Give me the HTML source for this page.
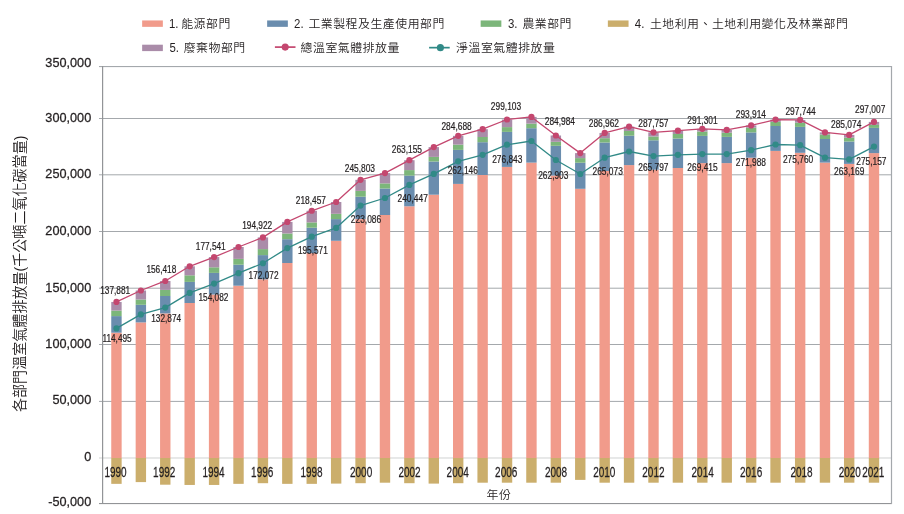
<!DOCTYPE html>
<html lang="zh-Hant"><head><meta charset="utf-8"><title>各部門溫室氣體排放量</title>
<style>html,body{margin:0;padding:0;background:#fff}body{width:904px;height:514px;overflow:hidden}svg{display:block}text{font-family:"Liberation Sans","Noto Sans CJK TC",sans-serif;fill:#231F20}.cj{font-family:"Liberation Sans","Noto Sans CJK TC",sans-serif;font-weight:350}</style></head><body>
<svg width="904" height="514" viewBox="0 0 904 514">
<rect width="904" height="514" fill="#fff"/>
<rect x="99" y="118.00" width="793" height="1" fill="#A4A8AC"/>
<rect x="99" y="174.30" width="793" height="1" fill="#A4A8AC"/>
<rect x="99" y="231.00" width="793" height="1" fill="#A4A8AC"/>
<rect x="99" y="287.70" width="793" height="1" fill="#A4A8AC"/>
<rect x="99" y="344.00" width="793" height="1" fill="#A4A8AC"/>
<rect x="99" y="400.90" width="793" height="1" fill="#A4A8AC"/>
<rect x="99" y="457.23" width="793" height="1.5" fill="#E0E1E2"/>
<rect x="99" y="66" width="793" height="1.1" fill="#A4A8AC"/>
<rect x="99" y="503" width="793" height="1.1" fill="#929497"/>
<rect x="102" y="66" width="1.2" height="438" fill="#929497"/>
<rect x="890.9" y="66" width="1.2" height="438" fill="#A4A8AC"/>
<rect x="111.25" y="332.70" width="10.40" height="125.28" fill="#F19B8B"/>
<rect x="111.25" y="316.10" width="10.40" height="16.60" fill="#6A8DAE"/>
<rect x="111.25" y="310.60" width="10.40" height="5.50" fill="#7CB67A"/>
<rect x="111.25" y="301.95" width="10.40" height="8.65" fill="#AA8CA9"/>
<rect x="111.25" y="457.98" width="10.40" height="25.87" fill="#CBAE6C"/>
<rect x="135.66" y="322.40" width="10.40" height="135.58" fill="#F19B8B"/>
<rect x="135.66" y="304.80" width="10.40" height="17.60" fill="#6A8DAE"/>
<rect x="135.66" y="299.50" width="10.40" height="5.30" fill="#7CB67A"/>
<rect x="135.66" y="290.50" width="10.40" height="9.00" fill="#AA8CA9"/>
<rect x="135.66" y="457.98" width="10.40" height="24.12" fill="#CBAE6C"/>
<rect x="160.07" y="313.40" width="10.40" height="144.58" fill="#F19B8B"/>
<rect x="160.07" y="296.00" width="10.40" height="17.40" fill="#6A8DAE"/>
<rect x="160.07" y="289.90" width="10.40" height="6.10" fill="#7CB67A"/>
<rect x="160.07" y="280.98" width="10.40" height="8.92" fill="#AA8CA9"/>
<rect x="160.07" y="457.98" width="10.40" height="26.72" fill="#CBAE6C"/>
<rect x="184.48" y="303.00" width="10.40" height="154.98" fill="#F19B8B"/>
<rect x="184.48" y="281.90" width="10.40" height="21.10" fill="#6A8DAE"/>
<rect x="184.48" y="275.30" width="10.40" height="6.60" fill="#7CB67A"/>
<rect x="184.48" y="266.30" width="10.40" height="9.00" fill="#AA8CA9"/>
<rect x="184.48" y="457.98" width="10.40" height="26.97" fill="#CBAE6C"/>
<rect x="208.89" y="294.50" width="10.40" height="163.48" fill="#F19B8B"/>
<rect x="208.89" y="272.90" width="10.40" height="21.60" fill="#6A8DAE"/>
<rect x="208.89" y="267.30" width="10.40" height="5.60" fill="#7CB67A"/>
<rect x="208.89" y="257.07" width="10.40" height="10.23" fill="#AA8CA9"/>
<rect x="208.89" y="457.98" width="10.40" height="26.97" fill="#CBAE6C"/>
<rect x="233.31" y="285.70" width="10.40" height="172.28" fill="#F19B8B"/>
<rect x="233.31" y="264.70" width="10.40" height="21.00" fill="#6A8DAE"/>
<rect x="233.31" y="258.90" width="10.40" height="5.80" fill="#7CB67A"/>
<rect x="233.31" y="247.00" width="10.40" height="11.90" fill="#AA8CA9"/>
<rect x="233.31" y="457.98" width="10.40" height="25.87" fill="#CBAE6C"/>
<rect x="257.72" y="279.30" width="10.40" height="178.68" fill="#F19B8B"/>
<rect x="257.72" y="255.10" width="10.40" height="24.20" fill="#6A8DAE"/>
<rect x="257.72" y="249.10" width="10.40" height="6.00" fill="#7CB67A"/>
<rect x="257.72" y="237.41" width="10.40" height="11.69" fill="#AA8CA9"/>
<rect x="257.72" y="457.98" width="10.40" height="25.22" fill="#CBAE6C"/>
<rect x="282.13" y="263.00" width="10.40" height="194.98" fill="#F19B8B"/>
<rect x="282.13" y="239.20" width="10.40" height="23.80" fill="#6A8DAE"/>
<rect x="282.13" y="233.50" width="10.40" height="5.70" fill="#7CB67A"/>
<rect x="282.13" y="221.90" width="10.40" height="11.60" fill="#AA8CA9"/>
<rect x="282.13" y="457.98" width="10.40" height="25.87" fill="#CBAE6C"/>
<rect x="306.54" y="253.10" width="10.40" height="204.88" fill="#F19B8B"/>
<rect x="306.54" y="227.70" width="10.40" height="25.40" fill="#6A8DAE"/>
<rect x="306.54" y="222.40" width="10.40" height="5.30" fill="#7CB67A"/>
<rect x="306.54" y="210.77" width="10.40" height="11.63" fill="#AA8CA9"/>
<rect x="306.54" y="457.98" width="10.40" height="25.87" fill="#CBAE6C"/>
<rect x="330.95" y="240.80" width="10.40" height="217.18" fill="#F19B8B"/>
<rect x="330.95" y="219.10" width="10.40" height="21.70" fill="#6A8DAE"/>
<rect x="330.95" y="213.80" width="10.40" height="5.30" fill="#7CB67A"/>
<rect x="330.95" y="202.00" width="10.40" height="11.80" fill="#AA8CA9"/>
<rect x="330.95" y="457.98" width="10.40" height="25.62" fill="#CBAE6C"/>
<rect x="355.36" y="219.10" width="10.40" height="238.88" fill="#F19B8B"/>
<rect x="355.36" y="196.70" width="10.40" height="22.40" fill="#6A8DAE"/>
<rect x="355.36" y="190.90" width="10.40" height="5.80" fill="#7CB67A"/>
<rect x="355.36" y="179.83" width="10.40" height="11.07" fill="#AA8CA9"/>
<rect x="355.36" y="457.98" width="10.40" height="25.22" fill="#CBAE6C"/>
<rect x="379.77" y="215.00" width="10.40" height="242.98" fill="#F19B8B"/>
<rect x="379.77" y="188.50" width="10.40" height="26.50" fill="#6A8DAE"/>
<rect x="379.77" y="183.40" width="10.40" height="5.10" fill="#7CB67A"/>
<rect x="379.77" y="173.10" width="10.40" height="10.30" fill="#AA8CA9"/>
<rect x="379.77" y="457.98" width="10.40" height="24.72" fill="#CBAE6C"/>
<rect x="404.18" y="206.30" width="10.40" height="251.68" fill="#F19B8B"/>
<rect x="404.18" y="175.60" width="10.40" height="30.70" fill="#6A8DAE"/>
<rect x="404.18" y="170.10" width="10.40" height="5.50" fill="#7CB67A"/>
<rect x="404.18" y="160.19" width="10.40" height="9.91" fill="#AA8CA9"/>
<rect x="404.18" y="457.98" width="10.40" height="25.22" fill="#CBAE6C"/>
<rect x="428.59" y="194.70" width="10.40" height="263.28" fill="#F19B8B"/>
<rect x="428.59" y="161.50" width="10.40" height="33.20" fill="#6A8DAE"/>
<rect x="428.59" y="156.90" width="10.40" height="4.60" fill="#7CB67A"/>
<rect x="428.59" y="147.10" width="10.40" height="9.80" fill="#AA8CA9"/>
<rect x="428.59" y="457.98" width="10.40" height="25.62" fill="#CBAE6C"/>
<rect x="453.00" y="183.90" width="10.40" height="274.08" fill="#F19B8B"/>
<rect x="453.00" y="149.90" width="10.40" height="34.00" fill="#6A8DAE"/>
<rect x="453.00" y="144.60" width="10.40" height="5.30" fill="#7CB67A"/>
<rect x="453.00" y="135.83" width="10.40" height="8.77" fill="#AA8CA9"/>
<rect x="453.00" y="457.98" width="10.40" height="25.22" fill="#CBAE6C"/>
<rect x="477.42" y="175.00" width="10.40" height="282.98" fill="#F19B8B"/>
<rect x="477.42" y="142.20" width="10.40" height="32.80" fill="#6A8DAE"/>
<rect x="477.42" y="137.00" width="10.40" height="5.20" fill="#7CB67A"/>
<rect x="477.42" y="129.20" width="10.40" height="7.80" fill="#AA8CA9"/>
<rect x="477.42" y="457.98" width="10.40" height="24.72" fill="#CBAE6C"/>
<rect x="501.83" y="166.90" width="10.40" height="291.08" fill="#F19B8B"/>
<rect x="501.83" y="131.90" width="10.40" height="35.00" fill="#6A8DAE"/>
<rect x="501.83" y="127.10" width="10.40" height="4.80" fill="#7CB67A"/>
<rect x="501.83" y="119.52" width="10.40" height="7.58" fill="#AA8CA9"/>
<rect x="501.83" y="457.98" width="10.40" height="24.72" fill="#CBAE6C"/>
<rect x="526.24" y="162.60" width="10.40" height="295.38" fill="#F19B8B"/>
<rect x="526.24" y="128.20" width="10.40" height="34.40" fill="#6A8DAE"/>
<rect x="526.24" y="123.60" width="10.40" height="4.60" fill="#7CB67A"/>
<rect x="526.24" y="116.90" width="10.40" height="6.70" fill="#AA8CA9"/>
<rect x="526.24" y="457.98" width="10.40" height="24.72" fill="#CBAE6C"/>
<rect x="550.65" y="175.50" width="10.40" height="282.48" fill="#F19B8B"/>
<rect x="550.65" y="145.80" width="10.40" height="29.70" fill="#6A8DAE"/>
<rect x="550.65" y="141.80" width="10.40" height="4.00" fill="#7CB67A"/>
<rect x="550.65" y="135.49" width="10.40" height="6.31" fill="#AA8CA9"/>
<rect x="550.65" y="457.98" width="10.40" height="24.72" fill="#CBAE6C"/>
<rect x="575.06" y="188.80" width="10.40" height="269.18" fill="#F19B8B"/>
<rect x="575.06" y="162.70" width="10.40" height="26.10" fill="#6A8DAE"/>
<rect x="575.06" y="158.10" width="10.40" height="4.60" fill="#7CB67A"/>
<rect x="575.06" y="153.10" width="10.40" height="5.00" fill="#AA8CA9"/>
<rect x="575.06" y="457.98" width="10.40" height="21.92" fill="#CBAE6C"/>
<rect x="599.47" y="171.00" width="10.40" height="286.98" fill="#F19B8B"/>
<rect x="599.47" y="142.50" width="10.40" height="28.50" fill="#6A8DAE"/>
<rect x="599.47" y="138.20" width="10.40" height="4.30" fill="#7CB67A"/>
<rect x="599.47" y="132.95" width="10.40" height="5.25" fill="#AA8CA9"/>
<rect x="599.47" y="457.98" width="10.40" height="24.72" fill="#CBAE6C"/>
<rect x="623.88" y="165.10" width="10.40" height="292.88" fill="#F19B8B"/>
<rect x="623.88" y="135.70" width="10.40" height="29.40" fill="#6A8DAE"/>
<rect x="623.88" y="131.00" width="10.40" height="4.70" fill="#7CB67A"/>
<rect x="623.88" y="126.60" width="10.40" height="4.40" fill="#AA8CA9"/>
<rect x="623.88" y="457.98" width="10.40" height="24.72" fill="#CBAE6C"/>
<rect x="648.29" y="169.70" width="10.40" height="288.28" fill="#F19B8B"/>
<rect x="648.29" y="140.30" width="10.40" height="29.40" fill="#6A8DAE"/>
<rect x="648.29" y="136.50" width="10.40" height="3.80" fill="#7CB67A"/>
<rect x="648.29" y="132.35" width="10.40" height="4.15" fill="#AA8CA9"/>
<rect x="648.29" y="457.98" width="10.40" height="24.72" fill="#CBAE6C"/>
<rect x="672.70" y="168.00" width="10.40" height="289.98" fill="#F19B8B"/>
<rect x="672.70" y="138.50" width="10.40" height="29.50" fill="#6A8DAE"/>
<rect x="672.70" y="134.00" width="10.40" height="4.50" fill="#7CB67A"/>
<rect x="672.70" y="130.70" width="10.40" height="3.30" fill="#AA8CA9"/>
<rect x="672.70" y="457.98" width="10.40" height="24.72" fill="#CBAE6C"/>
<rect x="697.11" y="163.10" width="10.40" height="294.88" fill="#F19B8B"/>
<rect x="697.11" y="135.90" width="10.40" height="27.20" fill="#6A8DAE"/>
<rect x="697.11" y="131.50" width="10.40" height="4.40" fill="#7CB67A"/>
<rect x="697.11" y="128.84" width="10.40" height="2.66" fill="#AA8CA9"/>
<rect x="697.11" y="457.98" width="10.40" height="24.72" fill="#CBAE6C"/>
<rect x="721.53" y="163.10" width="10.40" height="294.88" fill="#F19B8B"/>
<rect x="721.53" y="136.90" width="10.40" height="26.20" fill="#6A8DAE"/>
<rect x="721.53" y="132.70" width="10.40" height="4.20" fill="#7CB67A"/>
<rect x="721.53" y="129.90" width="10.40" height="2.80" fill="#AA8CA9"/>
<rect x="721.53" y="457.98" width="10.40" height="24.72" fill="#CBAE6C"/>
<rect x="745.94" y="157.70" width="10.40" height="300.28" fill="#F19B8B"/>
<rect x="745.94" y="132.40" width="10.40" height="25.30" fill="#6A8DAE"/>
<rect x="745.94" y="127.70" width="10.40" height="4.70" fill="#7CB67A"/>
<rect x="745.94" y="125.39" width="10.40" height="2.31" fill="#AA8CA9"/>
<rect x="745.94" y="457.98" width="10.40" height="24.72" fill="#CBAE6C"/>
<rect x="770.35" y="150.90" width="10.40" height="307.08" fill="#F19B8B"/>
<rect x="770.35" y="126.00" width="10.40" height="24.90" fill="#6A8DAE"/>
<rect x="770.35" y="121.90" width="10.40" height="4.10" fill="#7CB67A"/>
<rect x="770.35" y="119.60" width="10.40" height="2.30" fill="#AA8CA9"/>
<rect x="770.35" y="457.98" width="10.40" height="24.72" fill="#CBAE6C"/>
<rect x="794.96" y="152.80" width="10.40" height="305.18" fill="#F19B8B"/>
<rect x="794.96" y="126.90" width="10.40" height="25.90" fill="#6A8DAE"/>
<rect x="794.96" y="122.70" width="10.40" height="4.20" fill="#7CB67A"/>
<rect x="794.96" y="119.95" width="10.40" height="2.75" fill="#AA8CA9"/>
<rect x="794.96" y="457.98" width="10.40" height="24.72" fill="#CBAE6C"/>
<rect x="819.77" y="162.60" width="10.40" height="295.38" fill="#F19B8B"/>
<rect x="819.77" y="139.00" width="10.40" height="23.60" fill="#6A8DAE"/>
<rect x="819.77" y="134.50" width="10.40" height="4.50" fill="#7CB67A"/>
<rect x="819.77" y="132.40" width="10.40" height="2.10" fill="#AA8CA9"/>
<rect x="819.77" y="457.98" width="10.40" height="24.72" fill="#CBAE6C"/>
<rect x="843.98" y="163.90" width="10.40" height="294.08" fill="#F19B8B"/>
<rect x="843.98" y="141.50" width="10.40" height="22.40" fill="#6A8DAE"/>
<rect x="843.98" y="137.70" width="10.40" height="3.80" fill="#7CB67A"/>
<rect x="843.98" y="134.89" width="10.40" height="2.81" fill="#AA8CA9"/>
<rect x="843.98" y="457.98" width="10.40" height="24.72" fill="#CBAE6C"/>
<rect x="868.79" y="153.10" width="10.40" height="304.88" fill="#F19B8B"/>
<rect x="868.79" y="127.90" width="10.40" height="25.20" fill="#6A8DAE"/>
<rect x="868.79" y="124.90" width="10.40" height="3.00" fill="#7CB67A"/>
<rect x="868.79" y="121.89" width="10.40" height="3.01" fill="#AA8CA9"/>
<rect x="868.79" y="457.98" width="10.40" height="24.72" fill="#CBAE6C"/>
<polyline points="116.45,328.42 140.86,314.40 165.27,307.62 189.68,292.90 214.09,283.62 238.50,273.20 262.92,263.26 287.33,248.10 311.74,236.67 336.15,227.90 360.56,205.54 384.97,198.00 409.38,184.89 433.79,173.90 458.20,161.34 482.62,154.80 507.03,144.70 531.44,141.00 555.85,159.98 580.26,174.00 604.67,157.72 629.08,151.50 653.49,156.10 677.90,154.80 702.31,154.11 726.73,154.10 751.14,150.20 775.55,144.50 800.16,145.13 824.97,157.70 849.18,159.38 873.99,146.61" fill="none" stroke="#318A87" stroke-width="1.3" stroke-linejoin="round"/>
<circle cx="116.45" cy="328.42" r="3.1" fill="#318A87"/>
<circle cx="140.86" cy="314.40" r="3.1" fill="#318A87"/>
<circle cx="165.27" cy="307.62" r="3.1" fill="#318A87"/>
<circle cx="189.68" cy="292.90" r="3.1" fill="#318A87"/>
<circle cx="214.09" cy="283.62" r="3.1" fill="#318A87"/>
<circle cx="238.50" cy="273.20" r="3.1" fill="#318A87"/>
<circle cx="262.92" cy="263.26" r="3.1" fill="#318A87"/>
<circle cx="287.33" cy="248.10" r="3.1" fill="#318A87"/>
<circle cx="311.74" cy="236.67" r="3.1" fill="#318A87"/>
<circle cx="336.15" cy="227.90" r="3.1" fill="#318A87"/>
<circle cx="360.56" cy="205.54" r="3.1" fill="#318A87"/>
<circle cx="384.97" cy="198.00" r="3.1" fill="#318A87"/>
<circle cx="409.38" cy="184.89" r="3.1" fill="#318A87"/>
<circle cx="433.79" cy="173.90" r="3.1" fill="#318A87"/>
<circle cx="458.20" cy="161.34" r="3.1" fill="#318A87"/>
<circle cx="482.62" cy="154.80" r="3.1" fill="#318A87"/>
<circle cx="507.03" cy="144.70" r="3.1" fill="#318A87"/>
<circle cx="531.44" cy="141.00" r="3.1" fill="#318A87"/>
<circle cx="555.85" cy="159.98" r="3.1" fill="#318A87"/>
<circle cx="580.26" cy="174.00" r="3.1" fill="#318A87"/>
<circle cx="604.67" cy="157.72" r="3.1" fill="#318A87"/>
<circle cx="629.08" cy="151.50" r="3.1" fill="#318A87"/>
<circle cx="653.49" cy="156.10" r="3.1" fill="#318A87"/>
<circle cx="677.90" cy="154.80" r="3.1" fill="#318A87"/>
<circle cx="702.31" cy="154.11" r="3.1" fill="#318A87"/>
<circle cx="726.73" cy="154.10" r="3.1" fill="#318A87"/>
<circle cx="751.14" cy="150.20" r="3.1" fill="#318A87"/>
<circle cx="775.55" cy="144.50" r="3.1" fill="#318A87"/>
<circle cx="800.16" cy="145.13" r="3.1" fill="#318A87"/>
<circle cx="824.97" cy="157.70" r="3.1" fill="#318A87"/>
<circle cx="849.18" cy="159.38" r="3.1" fill="#318A87"/>
<circle cx="873.99" cy="146.61" r="3.1" fill="#318A87"/>
<polyline points="116.45,301.95 140.86,290.50 165.27,280.98 189.68,266.30 214.09,257.07 238.50,247.00 262.92,237.41 287.33,221.90 311.74,210.77 336.15,202.00 360.56,179.83 384.97,173.10 409.38,160.19 433.79,147.10 458.20,135.83 482.62,129.20 507.03,119.52 531.44,116.90 555.85,135.49 580.26,153.10 604.67,132.95 629.08,126.60 653.49,132.35 677.90,130.70 702.31,128.84 726.73,129.90 751.14,125.39 775.55,119.60 800.16,119.95 824.97,132.40 849.18,134.89 873.99,121.89" fill="none" stroke="#C4476F" stroke-width="1.3" stroke-linejoin="round"/>
<circle cx="116.45" cy="301.95" r="3.1" fill="#C4476F"/>
<circle cx="140.86" cy="290.50" r="3.1" fill="#C4476F"/>
<circle cx="165.27" cy="280.98" r="3.1" fill="#C4476F"/>
<circle cx="189.68" cy="266.30" r="3.1" fill="#C4476F"/>
<circle cx="214.09" cy="257.07" r="3.1" fill="#C4476F"/>
<circle cx="238.50" cy="247.00" r="3.1" fill="#C4476F"/>
<circle cx="262.92" cy="237.41" r="3.1" fill="#C4476F"/>
<circle cx="287.33" cy="221.90" r="3.1" fill="#C4476F"/>
<circle cx="311.74" cy="210.77" r="3.1" fill="#C4476F"/>
<circle cx="336.15" cy="202.00" r="3.1" fill="#C4476F"/>
<circle cx="360.56" cy="179.83" r="3.1" fill="#C4476F"/>
<circle cx="384.97" cy="173.10" r="3.1" fill="#C4476F"/>
<circle cx="409.38" cy="160.19" r="3.1" fill="#C4476F"/>
<circle cx="433.79" cy="147.10" r="3.1" fill="#C4476F"/>
<circle cx="458.20" cy="135.83" r="3.1" fill="#C4476F"/>
<circle cx="482.62" cy="129.20" r="3.1" fill="#C4476F"/>
<circle cx="507.03" cy="119.52" r="3.1" fill="#C4476F"/>
<circle cx="531.44" cy="116.90" r="3.1" fill="#C4476F"/>
<circle cx="555.85" cy="135.49" r="3.1" fill="#C4476F"/>
<circle cx="580.26" cy="153.10" r="3.1" fill="#C4476F"/>
<circle cx="604.67" cy="132.95" r="3.1" fill="#C4476F"/>
<circle cx="629.08" cy="126.60" r="3.1" fill="#C4476F"/>
<circle cx="653.49" cy="132.35" r="3.1" fill="#C4476F"/>
<circle cx="677.90" cy="130.70" r="3.1" fill="#C4476F"/>
<circle cx="702.31" cy="128.84" r="3.1" fill="#C4476F"/>
<circle cx="726.73" cy="129.90" r="3.1" fill="#C4476F"/>
<circle cx="751.14" cy="125.39" r="3.1" fill="#C4476F"/>
<circle cx="775.55" cy="119.60" r="3.1" fill="#C4476F"/>
<circle cx="800.16" cy="119.95" r="3.1" fill="#C4476F"/>
<circle cx="824.97" cy="132.40" r="3.1" fill="#C4476F"/>
<circle cx="849.18" cy="134.89" r="3.1" fill="#C4476F"/>
<circle cx="873.99" cy="121.89" r="3.1" fill="#C4476F"/>
<text transform="translate(91.2,67.18) scale(0.94,1)" text-anchor="end" font-size="13.5" stroke="#231F20" stroke-width="0.28">350,000</text>
<text transform="translate(91.2,121.88) scale(0.94,1)" text-anchor="end" font-size="13.5" stroke="#231F20" stroke-width="0.28">300,000</text>
<text transform="translate(91.2,177.78) scale(0.94,1)" text-anchor="end" font-size="13.5" stroke="#231F20" stroke-width="0.28">250,000</text>
<text transform="translate(91.2,235.18) scale(0.94,1)" text-anchor="end" font-size="13.5" stroke="#231F20" stroke-width="0.28">200,000</text>
<text transform="translate(91.2,292.18) scale(0.94,1)" text-anchor="end" font-size="13.5" stroke="#231F20" stroke-width="0.28">150,000</text>
<text transform="translate(91.2,348.08) scale(0.94,1)" text-anchor="end" font-size="13.5" stroke="#231F20" stroke-width="0.28">100,000</text>
<text transform="translate(91.2,404.18) scale(0.94,1)" text-anchor="end" font-size="13.5" stroke="#231F20" stroke-width="0.28">50,000</text>
<text transform="translate(91.2,460.98) scale(0.94,1)" text-anchor="end" font-size="13.5" stroke="#231F20" stroke-width="0.28">0</text>
<text transform="translate(91.2,506.08) scale(0.94,1)" text-anchor="end" font-size="13.5" stroke="#231F20" stroke-width="0.28">-50,000</text>
<text transform="translate(115.50,477.2) scale(0.69,1)" text-anchor="middle" font-size="14.5" stroke="#231F20" stroke-width="0.25">1990</text>
<text transform="translate(164.20,477.2) scale(0.69,1)" text-anchor="middle" font-size="14.5" stroke="#231F20" stroke-width="0.25">1992</text>
<text transform="translate(213.50,477.2) scale(0.69,1)" text-anchor="middle" font-size="14.5" stroke="#231F20" stroke-width="0.25">1994</text>
<text transform="translate(262.20,477.2) scale(0.69,1)" text-anchor="middle" font-size="14.5" stroke="#231F20" stroke-width="0.25">1996</text>
<text transform="translate(311.50,477.2) scale(0.69,1)" text-anchor="middle" font-size="14.5" stroke="#231F20" stroke-width="0.25">1998</text>
<text transform="translate(361.10,477.2) scale(0.69,1)" text-anchor="middle" font-size="14.5" stroke="#231F20" stroke-width="0.25">2000</text>
<text transform="translate(409.50,477.2) scale(0.69,1)" text-anchor="middle" font-size="14.5" stroke="#231F20" stroke-width="0.25">2002</text>
<text transform="translate(457.70,477.2) scale(0.69,1)" text-anchor="middle" font-size="14.5" stroke="#231F20" stroke-width="0.25">2004</text>
<text transform="translate(506.20,477.2) scale(0.69,1)" text-anchor="middle" font-size="14.5" stroke="#231F20" stroke-width="0.25">2006</text>
<text transform="translate(556.00,477.2) scale(0.69,1)" text-anchor="middle" font-size="14.5" stroke="#231F20" stroke-width="0.25">2008</text>
<text transform="translate(604.30,477.2) scale(0.69,1)" text-anchor="middle" font-size="14.5" stroke="#231F20" stroke-width="0.25">2010</text>
<text transform="translate(653.40,477.2) scale(0.69,1)" text-anchor="middle" font-size="14.5" stroke="#231F20" stroke-width="0.25">2012</text>
<text transform="translate(702.65,477.2) scale(0.69,1)" text-anchor="middle" font-size="14.5" stroke="#231F20" stroke-width="0.25">2014</text>
<text transform="translate(751.10,477.2) scale(0.69,1)" text-anchor="middle" font-size="14.5" stroke="#231F20" stroke-width="0.25">2016</text>
<text transform="translate(801.50,477.2) scale(0.69,1)" text-anchor="middle" font-size="14.5" stroke="#231F20" stroke-width="0.25">2018</text>
<text transform="translate(849.80,477.2) scale(0.69,1)" text-anchor="middle" font-size="14.5" stroke="#231F20" stroke-width="0.25">2020</text>
<text transform="translate(873.30,477.2) scale(0.69,1)" text-anchor="middle" font-size="14.5" stroke="#231F20" stroke-width="0.25">2021</text>
<text transform="translate(100.20,294.00) scale(0.812,1)" font-size="10.2" stroke="#231F20" stroke-width="0.22">137,881</text>
<text transform="translate(146.40,272.90) scale(0.812,1)" font-size="10.2" stroke="#231F20" stroke-width="0.22">156,418</text>
<text transform="translate(102.40,342.10) scale(0.812,1)" font-size="10.2" stroke="#231F20" stroke-width="0.22">114,495</text>
<text transform="translate(151.20,322.20) scale(0.812,1)" font-size="10.2" stroke="#231F20" stroke-width="0.22">132,874</text>
<text transform="translate(198.50,301.00) scale(0.812,1)" font-size="10.2" stroke="#231F20" stroke-width="0.22">154,082</text>
<text transform="translate(195.80,249.80) scale(0.812,1)" font-size="10.2" stroke="#231F20" stroke-width="0.22">177,541</text>
<text transform="translate(242.20,229.00) scale(0.812,1)" font-size="10.2" stroke="#231F20" stroke-width="0.22">194,922</text>
<text transform="translate(248.60,279.30) scale(0.812,1)" font-size="10.2" stroke="#231F20" stroke-width="0.22">172,072</text>
<text transform="translate(297.90,254.40) scale(0.812,1)" font-size="10.2" stroke="#231F20" stroke-width="0.22">195,571</text>
<text transform="translate(295.75,203.70) scale(0.822,1)" font-size="10.2" stroke="#231F20" stroke-width="0.22">218,457</text>
<text transform="translate(350.85,223.20) scale(0.822,1)" font-size="10.2" stroke="#231F20" stroke-width="0.22">223,086</text>
<text transform="translate(344.75,171.80) scale(0.822,1)" font-size="10.2" stroke="#231F20" stroke-width="0.22">245,803</text>
<text transform="translate(391.75,153.20) scale(0.822,1)" font-size="10.2" stroke="#231F20" stroke-width="0.22">263,155</text>
<text transform="translate(397.55,202.20) scale(0.822,1)" font-size="10.2" stroke="#231F20" stroke-width="0.22">240,447</text>
<text transform="translate(447.65,173.90) scale(0.822,1)" font-size="10.2" stroke="#231F20" stroke-width="0.22">262,146</text>
<text transform="translate(441.45,129.60) scale(0.822,1)" font-size="10.2" stroke="#231F20" stroke-width="0.22">284,688</text>
<text transform="translate(490.85,110.40) scale(0.822,1)" font-size="10.2" stroke="#231F20" stroke-width="0.22">299,103</text>
<text transform="translate(544.75,124.90) scale(0.822,1)" font-size="10.2" stroke="#231F20" stroke-width="0.22">284,984</text>
<text transform="translate(588.75,126.90) scale(0.822,1)" font-size="10.2" stroke="#231F20" stroke-width="0.22">286,962</text>
<text transform="translate(492.15,162.60) scale(0.822,1)" font-size="10.2" stroke="#231F20" stroke-width="0.22">276,843</text>
<text transform="translate(538.15,178.70) scale(0.822,1)" font-size="10.2" stroke="#231F20" stroke-width="0.22">262,903</text>
<text transform="translate(592.55,175.20) scale(0.822,1)" font-size="10.2" stroke="#231F20" stroke-width="0.22">265,073</text>
<text transform="translate(638.25,127.30) scale(0.822,1)" font-size="10.2" stroke="#231F20" stroke-width="0.22">287,757</text>
<text transform="translate(687.35,124.40) scale(0.822,1)" font-size="10.2" stroke="#231F20" stroke-width="0.22">291,301</text>
<text transform="translate(638.25,170.50) scale(0.822,1)" font-size="10.2" stroke="#231F20" stroke-width="0.22">265,797</text>
<text transform="translate(687.35,170.90) scale(0.822,1)" font-size="10.2" stroke="#231F20" stroke-width="0.22">269,415</text>
<text transform="translate(735.75,118.30) scale(0.822,1)" font-size="10.2" stroke="#231F20" stroke-width="0.22">293,914</text>
<text transform="translate(735.75,165.90) scale(0.822,1)" font-size="10.2" stroke="#231F20" stroke-width="0.22">271,988</text>
<text transform="translate(785.45,115.30) scale(0.822,1)" font-size="10.2" stroke="#231F20" stroke-width="0.22">297,744</text>
<text transform="translate(855.05,113.30) scale(0.822,1)" font-size="10.2" stroke="#231F20" stroke-width="0.22">297,007</text>
<text transform="translate(831.05,128.20) scale(0.822,1)" font-size="10.2" stroke="#231F20" stroke-width="0.22">285,074</text>
<text transform="translate(782.95,162.60) scale(0.822,1)" font-size="10.2" stroke="#231F20" stroke-width="0.22">275,760</text>
<text transform="translate(856.25,164.90) scale(0.822,1)" font-size="10.2" stroke="#231F20" stroke-width="0.22">275,157</text>
<text transform="translate(834.05,175.00) scale(0.822,1)" font-size="10.2" stroke="#231F20" stroke-width="0.22">263,169</text>
<rect x="142.15" y="20.45" width="20.7" height="6.4" fill="#F19B8B"/>
<text transform="translate(169.00,27.90) scale(0.88,1)" font-size="13" fill="#3d3d3d">1.</text>
<text class="cj" transform="translate(181.20,27.90) scale(1.01,1)" font-size="11.8" letter-spacing="0.5" text-anchor="start">能源部門</text>
<rect x="267.15" y="20.45" width="20.7" height="6.4" fill="#6A8DAE"/>
<text transform="translate(294.10,27.90) scale(0.88,1)" font-size="13" fill="#3d3d3d">2.</text>
<text class="cj" transform="translate(308.40,27.90) scale(1.01,1)" font-size="11.8" letter-spacing="0.5" text-anchor="start">工業製程及生產使用部門</text>
<rect x="480.65" y="20.45" width="20.7" height="6.4" fill="#7CB67A"/>
<text transform="translate(507.90,27.90) scale(0.88,1)" font-size="13" fill="#3d3d3d">3.</text>
<text class="cj" transform="translate(522.40,27.90) scale(1.01,1)" font-size="11.8" letter-spacing="0.5" text-anchor="start">農業部門</text>
<rect x="607.85" y="20.45" width="20.7" height="6.4" fill="#CBAE6C"/>
<text transform="translate(634.80,27.90) scale(0.88,1)" font-size="13" fill="#3d3d3d">4.</text>
<text class="cj" transform="translate(649.90,27.90) scale(1.01,1)" font-size="11.8" letter-spacing="0.5" text-anchor="start">土地利用、土地利用變化及林業部門</text>
<rect x="142.15" y="44.70" width="20.7" height="6.4" fill="#AA8CA9"/>
<text transform="translate(169.40,51.80) scale(0.88,1)" font-size="13" fill="#3d3d3d">5.</text>
<text class="cj" transform="translate(183.70,51.80) scale(1.01,1)" font-size="11.8" letter-spacing="0.5" text-anchor="start">廢棄物部門</text>
<rect x="274.90" y="46.25" width="20.6" height="1.7" fill="#C4476F"/>
<circle cx="285.20" cy="47.10" r="3.55" fill="#C4476F"/>
<text class="cj" transform="translate(300.60,51.80) scale(1.01,1)" font-size="11.8" letter-spacing="0.5" text-anchor="start">總溫室氣體排放量</text>
<rect x="429.10" y="46.80" width="20.6" height="1.7" fill="#318A87"/>
<circle cx="440.40" cy="47.65" r="3.55" fill="#318A87"/>
<text class="cj" transform="translate(456.10,51.80) scale(1.01,1)" font-size="11.8" letter-spacing="0.5" text-anchor="start">淨溫室氣體排放量</text>
<text class="cj" transform="translate(498.90,499.40) scale(1.01,1)" font-size="11.8" letter-spacing="0.5" text-anchor="middle">年份</text>
<text class="cj" transform="translate(25.2,273.8) rotate(-90) scale(0.957,1)" text-anchor="middle" font-size="14.7">各部門溫室氣體排放量(千公噸二氧化碳當量)</text>
</svg></body></html>
